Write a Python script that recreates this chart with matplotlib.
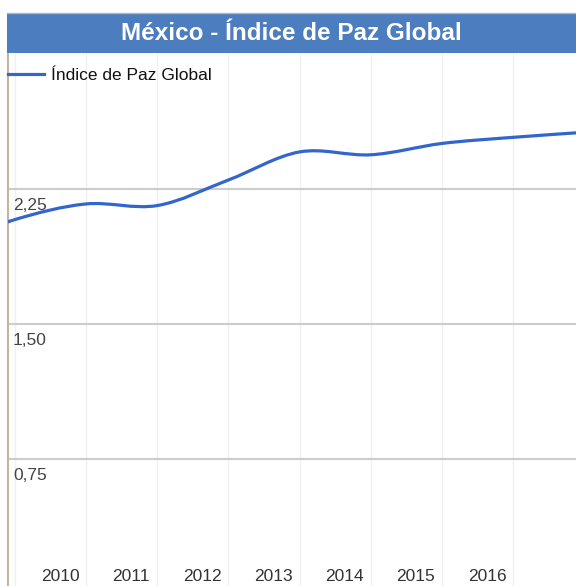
import numpy as np
import matplotlib.pyplot as plt
from matplotlib.path import Path
from matplotlib.patches import PathPatch, Rectangle
from matplotlib.lines import Line2D
from matplotlib import transforms

plt.rcParams['font.family'] = ['Liberation Sans', 'DejaVu Sans']

title = 'México - Índice de Paz Global'
series_name = 'Índice de Paz Global'

# data points (index year, score); points sit a bit after the year label
point_years = [2008, 2009, 2010, 2011, 2012, 2013, 2014, 2015, 2016, 2017]
scores = [1.93, 2.08, 2.167, 2.158, 2.30, 2.456, 2.44, 2.503, 2.537, 2.565]
point_offset = 0.366

year_labels = [2010, 2011, 2012, 2013, 2014, 2015, 2016]
y_ticks = [0.75, 1.50, 2.25]
y_tick_labels = ['0,75', '1,50', '2,25']

W, H = 576, 586
fig = plt.figure(figsize=(W / 100, H / 100), dpi=100)
ax = fig.add_axes([8 / W, 0, 1 - 8 / W, (H - 53) / H])

# smooth curve (catmull-rom as cubic beziers)
x = np.array(point_years) + point_offset
y = np.array(scores)
pts = np.column_stack([x, y])
ext = np.vstack([pts[0], pts, pts[-1]])
verts = [tuple(pts[0])]
codes = [Path.MOVETO]
for i in range(1, len(ext) - 2):
    p0, p1, p2, p3 = ext[i - 1], ext[i], ext[i + 1], ext[i + 2]
    c1 = p1 + (p2 - p0) / 6
    c2 = p2 - (p3 - p1) / 6
    verts += [tuple(c1), tuple(c2), tuple(p2)]
    codes += [Path.CURVE4] * 3
ax.add_patch(PathPatch(Path(verts, codes), fill=False, edgecolor='#3366cc',
                       lw=2.3, zorder=5, capstyle='round'))
ax.plot([], [], color='#3366cc', lw=2.3, label=series_name)

ax.set_xlim(2010 - 52 / 71.17, 2010 + 516 / 71.17)
ax.set_ylim(2.25 - 397 / 180, 2.25 + 136 / 180)

# grid
for gx in np.arange(2009, 2019) + point_offset:
    ax.axvline(gx, color='#f0f0f0', lw=1, zorder=1)
for gy in y_ticks:
    ax.axhline(gy, color='#cccccc', lw=1.5, zorder=2)

# y labels below gridlines, inside plot
off = transforms.offset_copy(ax.get_yaxis_transform(), fig=fig, x=5, y=-9, units='dots')
for v, lab in zip(y_ticks, y_tick_labels):
    ax.text(0, v, lab, transform=off, ha='left', va='top', fontsize=12.5, color='#444444')

ax.set_yticks([])
ax.set_xticks(year_labels)
ax.set_xticklabels([str(v) for v in year_labels], fontsize=12.5, color='#333333')
ax.tick_params(axis='x', length=0, pad=-12)

for s in ['top', 'right', 'bottom']:
    ax.spines[s].set_visible(False)
ax.spines['left'].set_color('#c4b4a2')
ax.spines['left'].set_linewidth(1.5)

ax.legend(loc='center left', bbox_to_anchor=(0, 1 - 22 / 533), frameon=False,
          fontsize=12.5, handlelength=2.1, handletextpad=0.4, borderpad=0,
          borderaxespad=0, labelcolor='#111111')

# title bar
fig.add_artist(Rectangle((7 / W, (H - 53) / H), 1, 40 / H, transform=fig.transFigure,
                         facecolor='#4c7dbf', edgecolor='none'))
fig.add_artist(Line2D([7 / W, 1], [(H - 12.5) / H] * 2, transform=fig.transFigure,
                      color='#b5b5b5', lw=1))
fig.text((7 + W) / 2 / W, (H - 33) / H, title, ha='center', va='center',
         fontsize=17.5, fontweight='bold', color='white')

fig.savefig('out.png', dpi=100)
